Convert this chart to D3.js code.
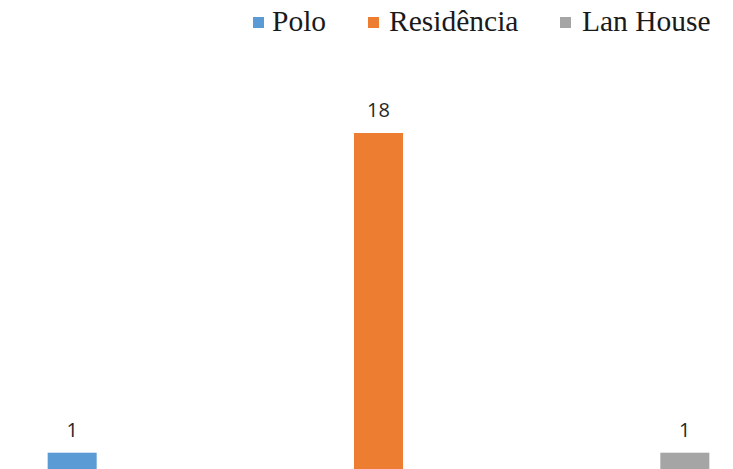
<!DOCTYPE html>
<html lang="pt">
<head>
    <meta charset="utf-8"/>
    <title>Local de acesso</title>
    <script src="https://d3js.org/d3.v7.min.js"></script>
    <style>
        body { margin: 0; background: #fff; }
        svg { display: block; }
    </style>
</head>
<body>
<svg id="chart"></svg>
<script>
    // dados
    const categorias = ["Polo", "Residência", "Lan House"];
    const valores = [1, 18, 1];
    const cores = ["#5b9bd5", "#ed7d31", "#a5a5a5"];

    const largura = 733, altura = 469;

    const svg = d3.select("#chart")
        .attr("width", largura)
        .attr("height", altura);

    // escalas
    const x = d3.scaleBand()
        .domain(categorias)
        .range([-81, 838])
        .paddingInner(0.84)
        .paddingOuter(0.42);

    const y = d3.scaleLinear()
        .domain([0, 18])
        .range([471.5, 133]);

    // barras
    svg.selectAll("rect.barra")
        .data(categorias).enter()
        .append("rect")
        .attr("class", "barra")
        .attr("x", d => x(d))
        .attr("width", x.bandwidth())
        .attr("y", (d, i) => y(valores[i]))
        .attr("height", (d, i) => y(0) - y(valores[i]))
        .style("fill", (d, i) => cores[i]);

    // rótulos de valor
    svg.selectAll("text.valor")
        .data(categorias).enter()
        .append("text")
        .attr("class", "valor")
        .attr("x", d => x(d) + x.bandwidth() / 2)
        .attr("y", (d, i) => y(valores[i]) - 16)
        .attr("text-anchor", "middle")
        .style("font-family", "'Open Sans', sans-serif")
        .style("font-size", "20px")
        .style("fill", "#262626")
        .text((d, i) => valores[i]);

    // legenda
    const legendaX = [253, 368, 560];
    const legenda = svg.selectAll("g.legenda")
        .data(categorias).enter()
        .append("g")
        .attr("class", "legenda")
        .attr("transform", (d, i) => `translate(${legendaX[i]},0)`);

    legenda.append("rect")
        .attr("x", 0)
        .attr("y", 17)
        .attr("width", 11)
        .attr("height", 11)
        .style("fill", (d, i) => cores[i]);

    legenda.append("text")
        .attr("x", (d, i) => [19, 21, 22][i])
        .attr("y", 31)
        .style("font-family", "'Liberation Serif', 'Times New Roman', serif")
        .style("font-size", "29.5px")
        .style("fill", "#1a1a1a")
        .text(d => d);
</script>
</body>
</html>
